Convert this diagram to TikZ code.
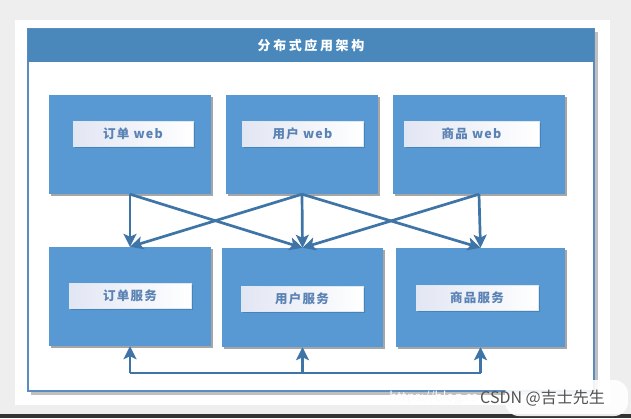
\documentclass[tikz,border=0pt]{standalone}
\usepackage{fontspec}
\setmainfont{Noto Sans CJK SC}
\usepackage{tikz}
\usetikzlibrary{arrows.meta,shadows}
\usepackage{xcolor}
\definecolor{daBg}{HTML}{EEEEEE}
\definecolor{daDark}{HTML}{333333}
\definecolor{daTitle}{HTML}{4A88BC}
\definecolor{daFrame}{HTML}{5A8CC0}
\definecolor{daBox}{HTML}{5899D3}
\definecolor{daFlow}{HTML}{3E75A6}
\definecolor{daText}{HTML}{5A82B4}
\definecolor{daTint}{HTML}{E2E6F3}
\tikzset{
    every picture/.style={x=1pt,y=-1pt},
    % tier boxes and their labels
    tierbox/.style={rectangle,fill=daBox,draw=none,inner sep=0pt,minimum height=99pt,
        drop shadow={shadow xshift=2pt,shadow yshift=-2pt,opacity=0.35,fill=black}},
    labelbox/.style={rectangle,left color=daTint,right color=white,draw=white!80!daFrame,
        inner sep=0pt,minimum height=25pt,text=daText,
        font=\fontsize{12.5}{14}\selectfont\bfseries\addfontfeature{LetterSpace=10},
        drop shadow={shadow xshift=2pt,shadow yshift=-2pt,opacity=0.6,fill=daFlow}},
    % connectors
    flow/.style={-{Stealth[length=13pt,width=13pt,inset=3pt]},line width=2.7pt,daFlow},
    bus/.style={line width=2.7pt,daFlow}
}

\begin{document}
\begin{tikzpicture}
    % Page
    \fill[daBg] (0,0) rectangle (631,418);
    \fill[white] (15,20) rectangle (610,405);
    \fill[daDark] (0,414) rectangle (631,418);

    % Frame and title bar
    \fill[black,opacity=0.25] (31,32) rectangle (598,395);
    \draw[daFrame,line width=1.5pt,fill=white] (28,29) rectangle (594,391);
    \fill[daTitle] (28,29) rectangle (594,62);
    \node[text=white,font=\fontsize{13}{15}\selectfont\bfseries\addfontfeature{LetterSpace=20}] (title) at (311,46) {分布式应用架构};

    % Web tier
    \node[tierbox,minimum width=162pt] (web1) at (130,144.5) {};
    \node[tierbox,minimum width=152pt] (web2) at (302,144.5) {};
    \node[tierbox,minimum width=172pt] (web3) at (479,144.5) {};
    \node[labelbox,minimum width=120pt] (web1l) at (133,133.5) {订单 web};
    \node[labelbox,minimum width=121pt] (web2l) at (302.5,133.5) {用户 web};
    \node[labelbox,minimum width=135pt] (web3l) at (471.5,133.5) {商品 web};

    % Service tier
    \node[tierbox,minimum width=162pt] (svc1) at (130,296.5) {};
    \node[tierbox,minimum width=161pt] (svc2) at (302.5,297.5) {};
    \node[tierbox,minimum width=169pt] (svc3) at (480.5,297.5) {};
    \node[labelbox,minimum width=122pt] (svc1l) at (130,295.5) {订单服务};
    \node[labelbox,minimum width=122pt] (svc2l) at (302,298.5) {用户服务};
    \node[labelbox,minimum width=122pt] (svc3l) at (477,297.5) {商品服务};

    % Web -> service calls
    \draw[flow] (web1.south) -- (svc1.north);
    \draw[flow] (web1.south) -- (svc2.north);
    \draw[flow] (web2.south) -- (svc1.north);
    \draw[flow] (web2.south) -- (svc2.north);
    \draw[flow] (web2.south) -- (svc3.north);
    \draw[flow] (web3.south) -- (svc2.north);
    \draw[flow] (web3.south) -- (svc3.north);

    % Service bus
    \coordinate (busy) at (0,373);
    \draw[bus] (svc1.south |- busy) -- (svc3.south |- busy);
    \draw[flow] (svc1.south |- busy) -- (svc1.south);
    \draw[flow] (svc2.south |- busy) -- (svc2.south);
    \draw[flow] (svc3.south |- busy) -- (svc3.south);

    % Watermark
    \fill[white,opacity=0.9,rounded corners=14pt] (505,380) rectangle (628,416);
    \node[text=daDark!85,font=\fontsize{16}{18}\selectfont,anchor=west,inner sep=0pt] (mark) at (480,398) {CSDN @吉士先生};
    \node[text=white!75!daBg,font=\fontsize{13}{15}\selectfont,anchor=east,inner sep=0pt] (url) at ([xshift=-2pt]mark.west) {https://blog.cs};
\end{tikzpicture}
\end{document}
